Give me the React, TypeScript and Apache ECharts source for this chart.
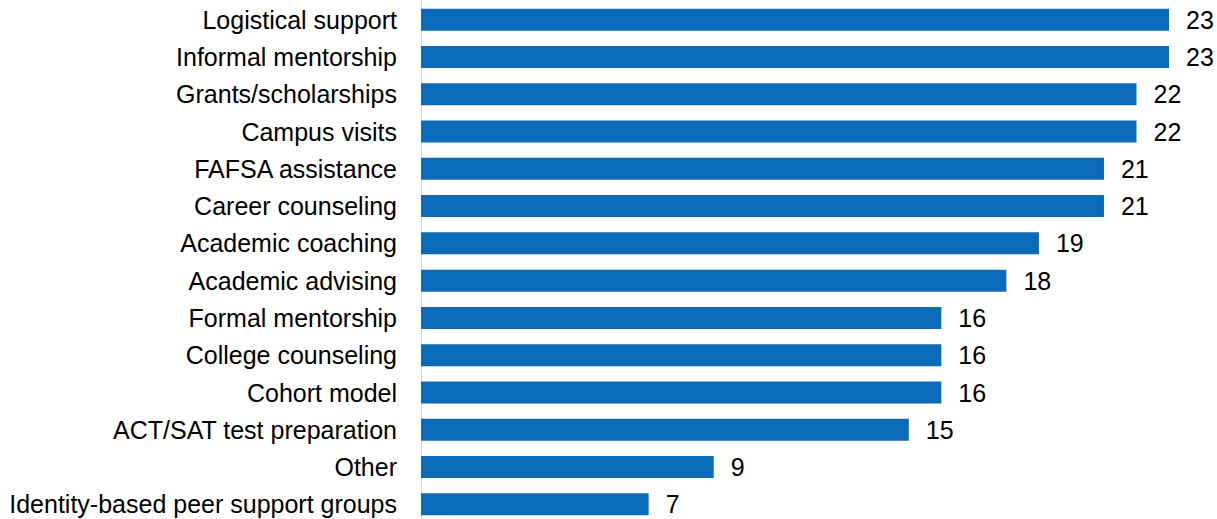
import React, { useEffect, useRef } from "react";
import * as echarts from "echarts";

const categories = [
  "Logistical support",
  "Informal mentorship",
  "Grants/scholarships",
  "Campus visits",
  "FAFSA assistance",
  "Career counseling",
  "Academic coaching",
  "Academic advising",
  "Formal mentorship",
  "College counseling",
  "Cohort model",
  "ACT/SAT test preparation",
  "Other",
  "Identity-based peer support groups",
];
const values = [23, 23, 22, 22, 21, 21, 19, 18, 16, 16, 16, 15, 9, 7];

export default function App() {
  const ref = useRef<HTMLDivElement>(null);
  useEffect(() => {
    if (!ref.current) return;
    const chart = echarts.init(ref.current, null, { renderer: "svg" });
    const font = "'Liberation Sans', Arial, sans-serif";
    chart.setOption({
      animation: false,
      grid: { left: 421, top: 1, height: 522, right: 48 },
      xAxis: {
        type: "value",
        min: 0,
        max: 23,
        show: false,
      },
      yAxis: {
        type: "category",
        data: categories,
        inverse: true,
        axisLine: { show: true, lineStyle: { color: "#d9d9d9", width: 1 } },
        axisTick: { show: false },
        axisLabel: {
          fontSize: 25,
          color: "#000",
          fontFamily: font,
          margin: 24,
        },
      },
      series: [
        {
          type: "bar",
          data: values,
          barWidth: 22,
          itemStyle: { color: "#0c6bb8" },
          label: {
            show: true,
            position: "right",
            distance: 17,
            fontSize: 25,
            color: "#000",
            fontFamily: font,
          },
        },
      ],
    });
    return () => chart.dispose();
  }, []);
  return (
    <div
      ref={ref}
      style={{ position: "fixed", left: 0, top: 0, width: 1217, height: 530, background: "#fff" }}
    />
  );
}
